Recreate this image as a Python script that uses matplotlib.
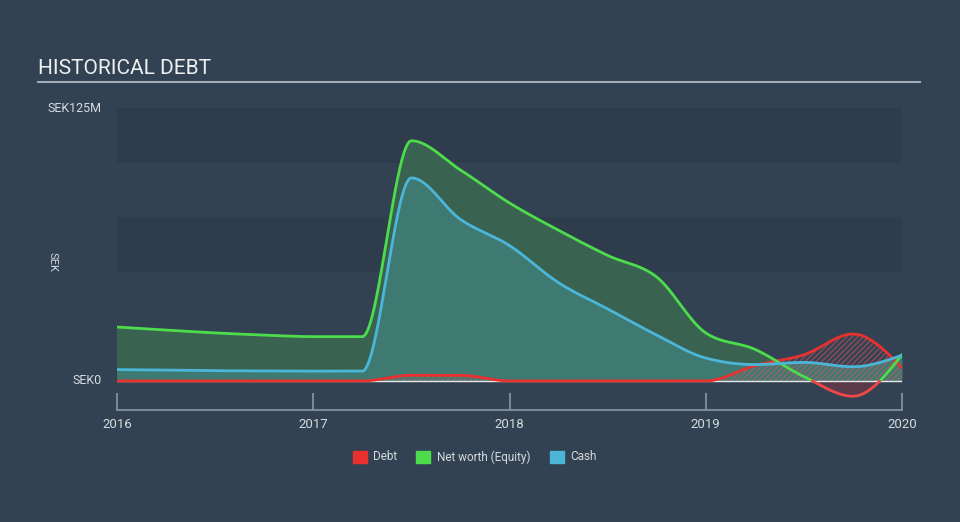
import numpy as np
import matplotlib
matplotlib.use("Agg")
import matplotlib.pyplot as plt
from matplotlib.patches import Rectangle

plt.rcParams['font.family'] = ['Roboto', 'DejaVu Sans']

# ---- data (SEK millions, quarterly) ----
dates = [2016.0, 2016.25, 2016.5, 2016.75, 2017.0, 2017.25, 2017.5, 2017.75,
         2018.0, 2018.25, 2018.5, 2018.75, 2019.0, 2019.25, 2019.5, 2019.75, 2020.0]
debt = [0, 0, 0, 0, 0, 0, 2.6, 2.6, 0, 0, 0, 0, 0, 7, 12, 21.5, 6]
net_worth = [24.7, 23.3, 22.0, 21.0, 20.3, 20.3, 110, 96.6, 81.5, 69, 57.5,
             47.6, 22, 14.5, 2, -7, 12]
cash = [5.2, 5.0, 4.7, 4.6, 4.5, 4.5, 93, 74, 62, 45, 33, 21, 10.5, 7.5, 8.5, 6.5, 11.8]
year_ticks = [2016, 2017, 2018, 2019, 2020]
legend_labels = ["Debt", "Net worth (Equity)", "Cash"]


def monotone_x(x, y, xs):
    """d3 curveMonotoneX-style cubic Hermite smoothing."""
    x = np.asarray(x, float); y = np.asarray(y, float)
    h = np.diff(x); s = np.diff(y) / h
    n = len(x); m = np.zeros(n)
    for k in range(1, n - 1):
        h0, h1, s0, s1 = h[k - 1], h[k], s[k - 1], s[k]
        p = (s0 * h1 + s1 * h0) / (h0 + h1)
        m[k] = (np.sign(s0) + np.sign(s1)) * min(abs(s0), abs(s1), 0.5 * abs(p))
    m[0] = (3 * s[0] - m[1]) / 2 if h[0] else 0
    m[-1] = (3 * s[-1] - m[-2]) / 2 if h[-1] else 0
    idx = np.clip(np.searchsorted(x, xs) - 1, 0, n - 2)
    t = (xs - x[idx]) / h[idx]
    h00 = 2 * t**3 - 3 * t**2 + 1; h10 = t**3 - 2 * t**2 + t
    h01 = -2 * t**3 + 3 * t**2; h11 = t**3 - t**2
    return h00 * y[idx] + h10 * h[idx] * m[idx] + h01 * y[idx + 1] + h11 * h[idx] * m[idx + 1]


xs = np.linspace(dates[0], dates[-1], 1600)
d_s = monotone_x(dates, debt, xs)
n_s = monotone_x(dates, net_worth, xs)
c_s = monotone_x(dates, cash, xs)

BG = "#334252"
fig = plt.figure(figsize=(9.6, 5.22), dpi=100, facecolor=BG)
ax = fig.add_axes([117 / 960, 1 - 410 / 522, (902 - 117) / 960, (410 - 108) / 522])
ax.set_facecolor(BG)
ax.set_xlim(2016, 2020)
ax.set_ylim(-13.3, 125)

# bands
for lo, hi in [(100, 125), (50, 75)]:
    ax.axhspan(lo, hi, color="#2f3c4b", zorder=0, lw=0)

GREEN = "#4cdc4c"; RED = "#e8312f"; BLUE = "#4bb6d8"

# net worth fill
ax.fill_between(xs, 0, n_s, where=n_s >= 0, color="#3a6250", lw=0, zorder=1, interpolate=True)
ax.fill_between(xs, 0, n_s, where=n_s < 0, color="#5a3a48", lw=0, zorder=1, interpolate=True)
# cash fill
ax.fill_between(xs, 0, c_s, color="#3e7a72", lw=0, zorder=2)
# debt hatch
ax.fill_between(xs, 0, d_s, facecolor="none", edgecolor="#d9545a", hatch="//////",
                lw=0, zorder=3, alpha=0.55)
ax.axhline(0, color="#e8e8e8", lw=1, zorder=3)

pos = np.where(n_s >= 0, n_s, np.nan)
neg = np.where(n_s <= 0, n_s, np.nan)
ax.plot(xs, pos, color=GREEN, lw=2, zorder=5)
ax.plot(xs, neg, color="#f04848", lw=2, zorder=5)
ax.plot(xs, c_s, color=BLUE, lw=2, zorder=6)
ax.plot(xs, d_s, color=RED, lw=2, zorder=4)

for s in ["top", "right", "left"]:
    ax.spines[s].set_visible(False)
ax.spines["bottom"].set_color("#8a97a5")
ax.spines["bottom"].set_linewidth(1.2)
ax.set_yticks([])
ax.set_xticks(year_ticks)
ax.set_xticklabels([str(y) for y in year_ticks], color="#d5dade", fontsize=9.5)
ax.tick_params(axis="x", direction="in", length=12, width=1.2, color="#8a97a5", pad=6)

# y labels
fig.text(47 / 960, 1 - 108 / 522, "SEK125M", color="#d5dade", fontsize=9, ha="left", va="center")
fig.text(102 / 960, 1 - 381 / 522, "SEK0", color="#d5dade", fontsize=9, ha="right", va="center")
fig.text(52 / 960, 1 - 262 / 522, "SEK", color="#d5dade", fontsize=8, rotation=270,
         ha="center", va="center")

# title
fig.text(38 / 960, 1 - 69 / 522, "HISTORICAL DEBT", color="#eef0f2", fontsize=15,
         ha="left", va="center")
fig.add_artist(plt.Line2D([38 / 960, 920 / 960], [1 - 82 / 522] * 2, color="#a3abb4", lw=1.5))

# legend
items = [(353, RED, 373, legend_labels[0]), (416, GREEN, 437, legend_labels[1]),
         (550, BLUE, 570, legend_labels[2])]
for sx, col, tx, lab in items:
    fig.add_artist(Rectangle((sx / 960, 1 - 463 / 522), 14 / 960, 12 / 522, color=col,
                             transform=fig.transFigure))
    fig.text(tx / 960, 1 - 457 / 522, lab, color="#d5dade", fontsize=8.5, ha="left", va="center")

fig.savefig("out.png", dpi=100, facecolor=BG)
